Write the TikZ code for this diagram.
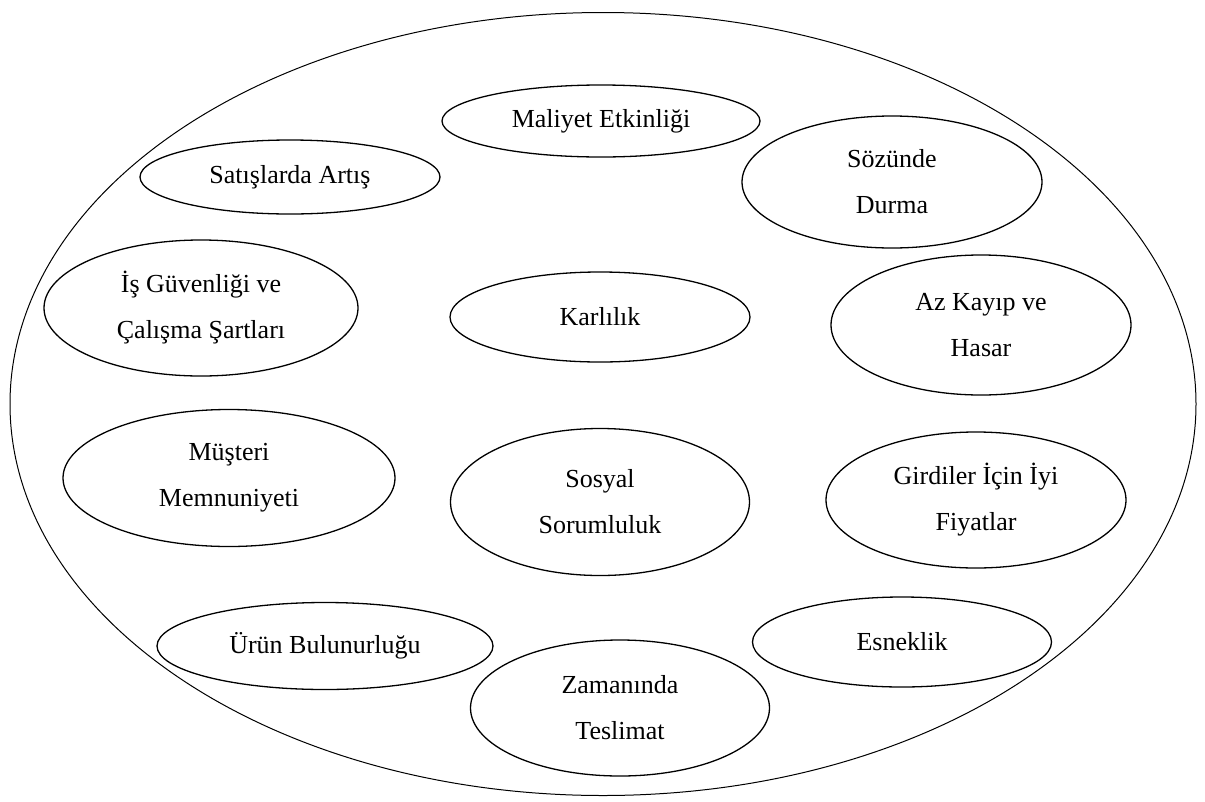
\documentclass[tikz,border=0pt]{standalone}
\usepackage{fontspec}
\setmainfont{Liberation Serif}
\usetikzlibrary{shapes.geometric}
\tikzset{
  oval/.style={draw, ellipse, line width=1.3pt, inner sep=0pt, align=center,
    font=\fontsize{26}{46}\selectfont},
}
\begin{document}
\begin{tikzpicture}[x=1pt,y=-1pt]
\useasboundingbox (0,0) rectangle (1205,801);
\node[draw, ellipse, line width=1pt, minimum width=1186pt, minimum height=783pt] (outer) at (603,404) {};
\node[oval, minimum width=318pt, minimum height=72pt] (maliyet) at (601,121) {Maliyet Etkinliği};
\node[oval, minimum width=300pt, minimum height=74pt] (satis) at (290,177) {Satışlarda Artış};
\node[oval, minimum width=300pt, minimum height=132pt] (soz) at (892,182) {Sözünde\\Durma};
\node[oval, minimum width=314pt, minimum height=136pt] (is) at (201,308) {İş Güvenliği ve\\Çalışma Şartları};
\node[oval, minimum width=300pt, minimum height=90pt] (karl) at (600,317) {Karlılık};
\node[oval, minimum width=300pt, minimum height=140pt] (az) at (981,325) {Az Kayıp ve\\Hasar};
\node[oval, minimum width=332pt, minimum height=137pt] (must) at (229,478) {Müşteri\\Memnuniyeti};
\node[oval, minimum width=299pt, minimum height=147pt] (sosyal) at (600,502) {Sosyal\\Sorumluluk};
\node[oval, minimum width=300pt, minimum height=136pt] (girdi) at (976,500) {Girdiler İçin İyi\\Fiyatlar};
\node[oval, minimum width=336pt, minimum height=87pt] (urun) at (325,646) {Ürün Bulunurluğu};
\node[oval, minimum width=299pt, minimum height=90pt] (esnek) at (902,642) {Esneklik};
\node[oval, minimum width=299pt, minimum height=136pt] (zaman) at (620,708) {Zamanında\\Teslimat};
\end{tikzpicture}
\end{document}
